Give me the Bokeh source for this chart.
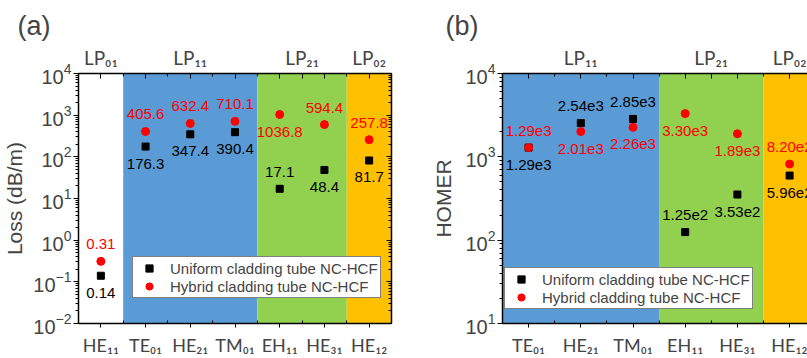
import numpy as np
from bokeh.plotting import figure
from bokeh.models import (FixedTicker, LinearAxis, LogAxis, BoxAnnotation,
                          ColumnDataSource, Range1d)
from bokeh.layouts import row
from bokeh.embed import file_html
from bokeh.resources import INLINE
from bokeh.core.properties import value

# ---------------- data: panel (a) loss ----------------
modes_a = ["HE₁₁", "TE₀₁", "HE₂₁", "TM₀₁", "EH₁₁", "HE₃₁", "HE₁₂"]
uniform_loss = [0.14, 176.3, 347.4, 390.4, 17.1, 48.4, 81.7]
hybrid_loss = [0.31, 405.6, 632.4, 710.1, 1036.8, 594.4, 257.8]
groups_a = ["LP₀₁", "LP₁₁", "LP₂₁", "LP₀₂"]
group_sizes_a = [1, 3, 2, 1]

# ---------------- data: panel (b) HOMER ----------------
modes_b = ["TE₀₁", "HE₂₁", "TM₀₁", "EH₁₁", "HE₃₁", "HE₁₂"]
uniform_homer = [1290, 2540, 2850, 125, 353, 596]
hybrid_homer = [1290, 2010, 2260, 3300, 1890, 820]
groups_b = ["LP₁₁", "LP₂₁", "LP₀₂"]
group_sizes_b = [3, 2, 1]

series_names = ["Uniform cladding tube NC-HCF", "Hybrid cladding tube NC-HCF"]

# label placement: +1 = above the marker, -1 = below
uniform_side_a = [-1, -1, -1, -1, 1, -1, -1]
hybrid_side_a = [1, 1, 1, 1, -1, 1, 1]
uniform_side_b = [-1, 1, 1, 1, -1, -1]
hybrid_side_b = [1, -1, -1, -1, -1, 1]

group_colors = {"LP₀₁": "#FFFFFF", "LP₁₁": "#5B9BD5", "LP₂₁": "#92D050", "LP₀₂": "#FFC000"}

FONT = "Liberation Sans"
CAT_FONT = "Lato"


def fmt_plain(v):
    return f"{v:g}"


def fmt_sci(v):
    e = int(np.floor(np.log10(v)))
    m = v / 10 ** e
    return f"{m:.2f}e{e}"


def make_panel(modes, uni, hyb, uni_side, hyb_side, groups, sizes, y_lo, y_hi,
               x_end, width, b_left, b_right, title, title_offset, ylabel,
               legend_xy, right_axis, fmt, ylabel_standoff):
    n = len(modes)
    xs = list(range(1, n + 1))
    p = figure(width=width, height=358, x_range=Range1d(0.5, x_end),
               y_range=Range1d(y_lo, y_hi), y_axis_type="log",
               output_backend="svg", toolbar_location=None,
               min_border_left=b_left, min_border_right=b_right,
               min_border_top=73, min_border_bottom=33)
    p.outline_line_color = None
    p.xgrid.visible = False
    p.ygrid.visible = False
    p.background_fill_color = "white"
    p.border_fill_color = "white"

    p.title.text = title
    p.title.text_font = FONT
    p.title.text_font_size = "27px"
    p.title.text_font_style = "normal"
    p.title.align = "left"
    p.title.offset = title_offset
    p.title.standoff = 4

    # group bands
    start = 0.5
    centers = []
    for g, s in zip(groups, sizes):
        end = start + s
        p.add_layout(BoxAnnotation(left=start, right=end, fill_color=group_colors[g],
                                   fill_alpha=1.0, line_alpha=0, level="underlay"))
        centers.append((start + end) / 2)
        start = end

    # markers
    p.scatter(xs, uni, marker="square", size=7, color="black", legend_label=series_names[0])
    p.scatter(xs, hyb, marker="circle", size=8, color="#FF0000", legend_label=series_names[1])

    # value labels
    off = 17
    src_u = ColumnDataSource(dict(x=xs, y=uni, t=[fmt(v) for v in uni],
                                  dy=[-s * off for s in uni_side]))
    src_h = ColumnDataSource(dict(x=xs, y=hyb, t=[fmt(v) for v in hyb],
                                  dy=[-s * off for s in hyb_side]))
    for src, col in ((src_u, "black"), (src_h, "#FF0000")):
        p.text(x="x", y="y", text="t", y_offset="dy", source=src, text_align="center",
               text_baseline="middle", text_color=col, text_font=value(FONT),
               text_font_size="15px")

    # y ticks
    decades = [10.0 ** k for k in range(int(np.log10(y_lo)), int(np.log10(y_hi)) + 1)]
    minors = [m * d for d in decades[:-1] for m in range(2, 10)]
    yt = FixedTicker(ticks=decades, minor_ticks=minors)
    ya = p.yaxis[0]
    ya.ticker = yt
    ya.axis_label = ylabel
    ya.axis_label_text_font = FONT
    ya.axis_label_text_font_size = "21px"
    ya.axis_label_text_font_style = "normal"
    ya.axis_label_standoff = ylabel_standoff
    ya.major_label_text_font = FONT
    ya.major_label_text_font_size = "20px"
    ya.major_label_standoff = 2
    ya.major_tick_out = 5
    ya.major_tick_in = 0
    ya.minor_tick_out = 3
    ya.minor_tick_in = 0
    ya.axis_line_width = 1.5

    # bottom axis
    xa = p.xaxis[0]
    xa.ticker = FixedTicker(ticks=xs, minor_ticks=[k + 0.5 for k in range(0, n + 1)])
    xa.major_label_overrides = {x: m for x, m in zip(xs, modes)}
    xa.major_label_text_font = CAT_FONT
    xa.major_label_text_font_size = "18px"
    xa.major_label_standoff = 6
    xa.major_tick_out = 4
    xa.major_tick_in = 0
    xa.minor_tick_out = 0
    xa.minor_tick_in = 3
    xa.axis_line_width = 1.5

    # top axis with group names
    top_ticks = sorted(set(xs + centers))
    top_minor = [k + 0.5 for k in range(0, n + 1) if (k + 0.5) not in top_ticks]
    labels = {t: "" for t in top_ticks}
    for g, c in zip(groups, centers):
        labels[c] = g
    top = LinearAxis(ticker=FixedTicker(ticks=top_ticks, minor_ticks=top_minor),
                     major_label_overrides=labels)
    top.major_label_text_font = CAT_FONT
    top.major_label_text_font_size = "19px"
    top.major_label_standoff = 5
    top.major_tick_in = 5
    top.major_tick_out = 0
    top.minor_tick_in = 3
    top.minor_tick_out = 0
    top.axis_line_width = 1.5
    p.add_layout(top, "above")

    if right_axis:
        ra = LogAxis(ticker=FixedTicker(ticks=decades, minor_ticks=minors),
                     major_label_overrides={d: "" for d in decades})
        ra.major_label_standoff = 0
        ra.major_tick_in = 5
        ra.major_tick_out = 0
        ra.minor_tick_in = 3
        ra.minor_tick_out = 0
        ra.axis_line_width = 1.5
        p.add_layout(ra, "right")

    lg = p.legend[0]
    lg.location = legend_xy
    lg.border_line_color = "black"
    lg.border_line_width = 1
    lg.padding = 2
    lg.spacing = 0
    lg.glyph_width = 28
    lg.glyph_height = 18
    lg.label_height = 18
    lg.label_standoff = 7
    lg.label_text_font = FONT
    lg.label_text_font_size = "15px"
    lg.background_fill_alpha = 1.0
    return p


pa = make_panel(modes_a, uniform_loss, hybrid_loss, uniform_side_a, hybrid_side_a,
                groups_a, group_sizes_a, 1e-2, 1e4, 7.5, 400, 78, 9, "(a)", -61,
                "Loss (dB/m)", (54, 25), True, fmt_plain, 4)
pb = make_panel(modes_b, uniform_homer, hybrid_homer, uniform_side_b, hybrid_side_b,
                groups_b, group_sizes_b, 1e1, 1e4, 0.5 + 305 / 52.2, 407, 102, 0, "(b)", -57,
                "HOMER", (2, 14), False, fmt_sci, 7)

layout = row(pa, pb)
open("out.html", "w").write(file_html(layout, INLINE))
